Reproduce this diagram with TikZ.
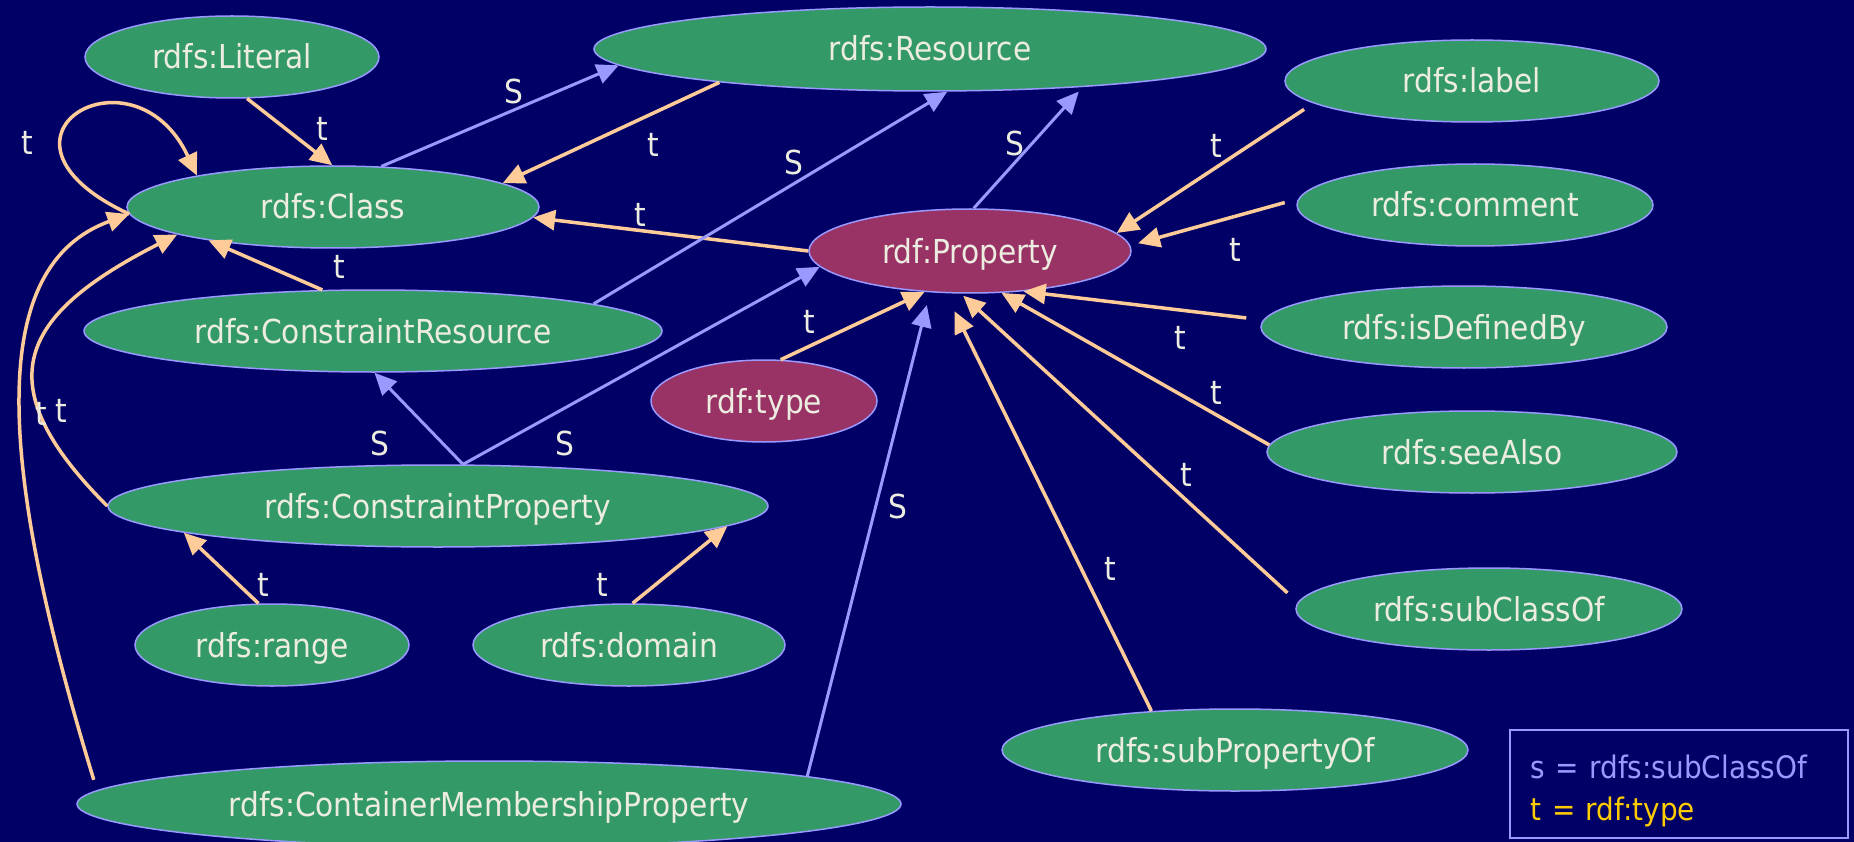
\documentclass[tikz,border=0pt]{standalone}
\usepackage{fontspec}
\setmainfont{DejaVu Sans}[FakeStretch=0.9]
\usetikzlibrary{shapes.geometric, arrows.meta}

\definecolor{bgnavy}{RGB}{0,0,102}
\definecolor{ngreen}{RGB}{51,153,102}
\definecolor{nred}{RGB}{153,51,102}
\definecolor{sblue}{RGB}{153,153,255}
\definecolor{torange}{RGB}{255,204,153}
\definecolor{tgold}{RGB}{255,204,0}
\definecolor{ntext}{RGB}{236,236,224}

\begin{document}
\begin{tikzpicture}[x = 1pt, y = 1pt,
		rnode/.style = {ellipse, draw = sblue, line width = 1.5pt, fill = ngreen, text = ntext, inner sep = 0pt, text height = 32pt, text depth = 8pt, font = \fontsize{33}{40}\selectfont},
		pnode/.style = {rnode, fill = nred},
		tlink/.style = {draw = torange, line width = 3.5pt, -{Triangle[length = 22pt, width = 20pt]}},
		slink/.style = {draw = sblue, line width = 3pt, -{Triangle[length = 22pt, width = 20pt]}},
		elab/.style = {text = ntext, inner sep = 0pt, font = \fontsize{33}{40}\selectfont}]
		
		\useasboundingbox (0,0) rectangle (1854,-842);
		\fill [bgnavy] (0,0) rectangle (1854,-842);
		
		% classes and properties
		\node (lit) [rnode, minimum width = 294pt, minimum height = 82pt] at (232,-57) {rdfs:Literal};
		\node (res) [rnode, minimum width = 672pt, minimum height = 84pt] at (930,-49) {rdfs:Resource};
		\node (cls) [rnode, minimum width = 412pt, minimum height = 82pt] at (333,-207) {rdfs:Class};
		\node (prop) [pnode, minimum width = 322pt, minimum height = 84pt] at (970,-251) {rdf:Property};
		\node (lbl) [rnode, minimum width = 374pt, minimum height = 82pt] at (1472,-81) {rdfs:label};
		\node (cmt) [rnode, minimum width = 356pt, minimum height = 82pt] at (1475,-205) {rdfs:comment};
		\node (idb) [rnode, minimum width = 406pt, minimum height = 82pt] at (1464,-327) {rdfs:isDefinedBy};
		\node (cres) [rnode, minimum width = 578pt, minimum height = 82pt] at (373,-331) {rdfs:ConstraintResource};
		\node (typ) [pnode, minimum width = 226pt, minimum height = 82pt] at (764,-401) {rdf:type};
		\node (see) [rnode, minimum width = 410pt, minimum height = 82pt] at (1472,-452) {rdfs:seeAlso};
		\node (cprop) [rnode, minimum width = 660pt, minimum height = 82pt] at (438,-506) {rdfs:ConstraintProperty};
		\node (sco) [rnode, minimum width = 386pt, minimum height = 82pt] at (1489,-609) {rdfs:subClassOf};
		\node (rng) [rnode, minimum width = 274pt, minimum height = 82pt] at (272,-645) {rdfs:range};
		\node (dom) [rnode, minimum width = 312pt, minimum height = 82pt] at (629,-645) {rdfs:domain};
		\node (spo) [rnode, minimum width = 466pt, minimum height = 82pt] at (1235,-750) {rdfs:subPropertyOf};
		\node (cmp) [rnode, minimum width = 824pt, minimum height = 86pt] at (489,-804) {rdfs:ContainerMembershipProperty};
		
		% rdf:type links
		\draw [tlink] (lit.-70) -- (cls.91) node (tLit) [elab, pos = 0.73, xshift = 13pt, yshift = 18pt] {t};
		
		\draw [tlink] (cls.182) to [out = 155, in = 115, out distance = 180pt, in distance = 150pt] node (tSelf) [elab, pos = 0.3, xshift = -33pt, yshift = 4pt] {t} (cls.167);
		
		\draw [tlink] (res.189) -- (cls.8) node (tRes) [elab, pos = 0.359, xshift = 12pt, yshift = -26pt] {t};
		\draw [tlink] (cres.141) -- (cls.195) node (tCres) [elab, pos = 0, xshift = 17pt, yshift = 23pt] {t};
		\draw [tlink] (prop.west) -- (cls.-3) node (tProp) [elab, pos = 0.616, xshift = 2pt, yshift = 15pt] {t};
		
		\draw [tlink, shorten <= 11pt] (lbl.188) -- (prop.7) node (tLbl) [elab, pos = 0.443, xshift = -10pt, yshift = 15pt] {t};
		\draw [tlink, shorten <= 14pt, shorten >= 8pt] (cmt.178) -- (prop.2) node (tCmt) [elab, pos = 0.431, xshift = 9pt, yshift = -31pt] {t};
		\draw [tlink, shorten <= 17pt] (idb.178) -- (prop.-37) node (tIdb) [elab, pos = 0.335, xshift = -3pt, yshift = -28pt] {t};
		\draw [tlink] (see.178) -- (prop.-53) node (tSee) [elab, pos = 0.232, xshift = 9pt, yshift = 17pt] {t};
		\draw [tlink, shorten <= 14pt, shorten >= 3pt] (sco.178) -- (prop.-102) node (tSco) [elab, pos = 0.37, xshift = 13pt, yshift = 13pt] {t};
		\draw [tlink, shorten >= 20pt] (spo.155) -- (prop.-120) node (tSpo) [elab, pos = 0.34, xshift = 29pt] {t};
		\draw [tlink] (typ.68) -- (prop.-138) node (tTyp) [elab, pos = 0.263, xshift = -9pt, yshift = 20pt] {t};
		
		\draw [tlink] (rng.108) -- (cprop.186) node (tRng) [elab, pos = 0.266, xshift = 25pt] {t};
		\draw [tlink] (dom.85) -- (cprop.-4) node (tDom) [elab, pos = 0.244, xshift = -53pt] {t};
		
		\draw [tlink] (cprop.west) to [out = 135, in = 207, looseness = 1.6] node (tCpCls) [elab, pos = 0.29, xshift = 22pt] {t} (cls.190);
		\draw [tlink, shorten <= 11pt] (cmp.178) to [out = 107, in = 200, out distance = 350pt, in distance = 150pt] node (tCmp) [elab, pos = 0.47, xshift = 20pt] {t} (cls.182);
		
		% subClassOf links
		\draw [slink] (cls.40) -- (res.183) node (sCls) [elab, pos = 0.586, xshift = -7pt, yshift = 16pt] {S};
		\draw [slink] (cres.7) -- (res.-68) node (sCres) [elab, pos = 0.592, xshift = -9pt, yshift = 16pt] {S};
		\draw [slink, shorten >= 6pt] (prop.85) -- (res.-14) node (sProp) [elab, pos = 0.472, xshift = -10pt, yshift = 8pt] {S};
		\draw [slink] (cprop.59) -- (cres.-88) node (sCpRes) [elab, pos = 0.226, xshift = -63pt] {S};
		\draw [slink] (cprop.59) -- (prop.186) node (sCpProp) [elab, pos = 0.287, yshift = -36pt] {S};
		\draw [slink, shorten >= 13pt] (cmp.5) -- (prop.-134) node (sCmp) [elab, pos = 0.558, xshift = 22pt] {S};
		
		% legend
		\node (legend) [draw = sblue, line width = 1.5pt, text width = 296pt, inner xsep = 21pt, minimum height = 108pt, align = left, font = \fontsize{31}{42}\selectfont, anchor = north west] at (1509,-729) {\rule{0pt}{38pt}\textcolor{sblue}{s = rdfs:subClassOf}\\\textcolor{tgold}{t = rdf:type}};
	\end{tikzpicture}
\end{document}
